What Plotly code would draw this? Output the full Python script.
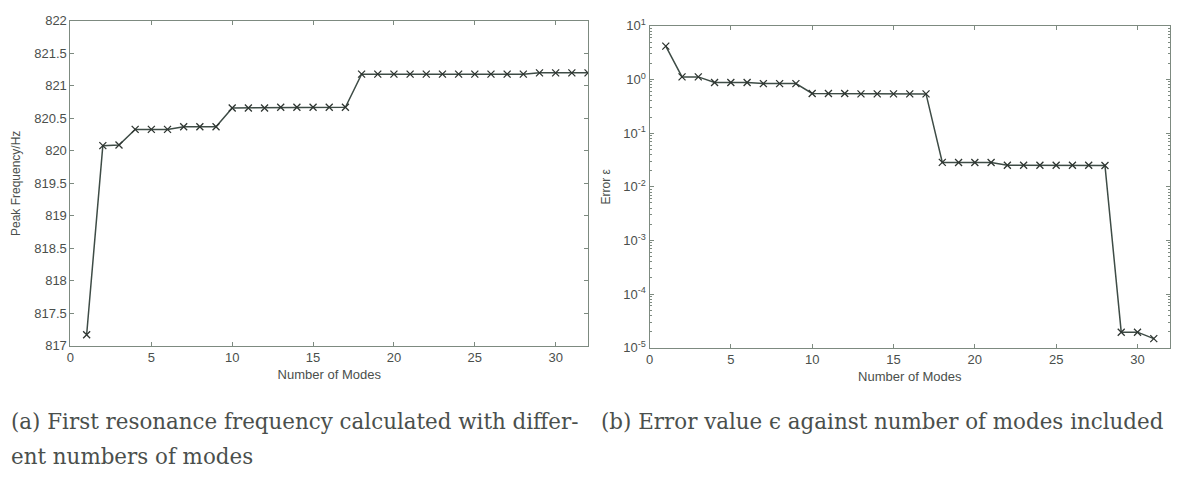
import plotly.graph_objects as go

# Number of modes included in the modal sum
modes_freq = list(range(1, 33))
# First resonance peak frequency (Hz) for each number of modes
peak_freq = [817.17, 820.08, 820.09, 820.33, 820.33, 820.33, 820.37, 820.37, 820.37,
             820.66, 820.66, 820.66, 820.67, 820.67, 820.67, 820.67, 820.67,
             821.18, 821.18, 821.18, 821.18, 821.18, 821.18, 821.18, 821.18, 821.18,
             821.18, 821.18, 821.20, 821.20, 821.20, 821.20]

modes_err = list(range(1, 32))
# Error value epsilon for each number of modes
error_eps = [4.2, 1.12, 1.12, 0.88, 0.88, 0.88, 0.84, 0.84, 0.84,
             0.55, 0.55, 0.55, 0.54, 0.54, 0.54, 0.54, 0.54,
             0.0285, 0.0283, 0.0283, 0.0283, 0.0252, 0.0252, 0.0252, 0.0252, 0.0252,
             0.0252, 0.0250, 1.95e-5, 1.95e-5, 1.48e-5]

freq_ticks = [817, 817.5, 818, 818.5, 819, 819.5, 820, 820.5, 821, 821.5, 822]
x_ticks = [0, 5, 10, 15, 20, 25, 30]
err_exponents = [1, 0, -1, -2, -3, -4, -5]

caption_a = ["(a) First resonance frequency calculated with differ-", "ent numbers of modes"]
caption_b = "(b) Error value \u03f5 against number of modes included"

W, H = 1180, 486
LINE = "#3e4c46"
MARK = "#2f3632"
FRAME = "#7d8a80"
TEXT = "#4a4f4c"
SANS = "Liberation Sans, Arial, sans-serif"
SERIF = "DejaVu Serif, serif"

fig = go.Figure()

fig.add_trace(go.Scatter(
    x=modes_freq, y=peak_freq, mode="lines+markers",
    line=dict(color=LINE, width=1.5),
    marker=dict(symbol="x-thin", size=7, line=dict(width=1.3, color=MARK)),
    xaxis="x", yaxis="y", showlegend=False))

fig.add_trace(go.Scatter(
    x=modes_err, y=error_eps, mode="lines+markers",
    line=dict(color=LINE, width=1.5),
    marker=dict(symbol="x-thin", size=7, line=dict(width=1.3, color=MARK)),
    xaxis="x2", yaxis="y2", showlegend=False))


def px_x(p):
    return p / W


def px_y(p):
    return 1 - p / H


axis_common = dict(
    showgrid=False, zeroline=False, showline=True, linecolor=FRAME, linewidth=1,
    mirror="ticks", ticks="inside", ticklen=4, tickcolor=FRAME,
    tickfont=dict(family=SANS, size=13, color=TEXT),
)

minor_vals = [m * 10.0 ** e for e in range(-5, 1) for m in range(2, 10)]

fig.update_layout(
    width=W, height=H,
    margin=dict(l=0, r=0, t=0, b=0),
    paper_bgcolor="white", plot_bgcolor="white",
    xaxis=dict(axis_common, domain=[px_x(66.7), px_x(586)], range=[0, 32],
               tickvals=x_ticks, anchor="y",
               title=dict(text="Number of Modes", standoff=5,
                          font=dict(family=SANS, size=13, color=TEXT))),
    yaxis=dict(axis_common, domain=[px_y(349), px_y(12.3)], range=[817, 822],
               tickvals=freq_ticks, anchor="x",
               title=dict(text="Peak Frequency/Hz", standoff=11,
                          font=dict(family=SANS, size=12, color=TEXT))),
    xaxis2=dict(axis_common, domain=[px_x(647.7), px_x(1170)], range=[0, 32],
                tickvals=x_ticks, anchor="y2",
                title=dict(text="Number of Modes", standoff=5,
                           font=dict(family=SANS, size=13, color=TEXT))),
    yaxis2=dict(axis_common, domain=[px_y(351), px_y(17.5)], type="log",
                range=[-5, 1], anchor="x2",
                tickvals=[10.0 ** e for e in err_exponents],
                ticktext=["10<sup>%d</sup>" % e for e in err_exponents],
                minor=dict(tickvals=minor_vals, ticks="inside", ticklen=2,
                           tickcolor=FRAME, showgrid=False),
                title=dict(text="Error \u03b5", standoff=10,
                           font=dict(family=SANS, size=12, color=TEXT))),
)

fig.add_annotation(x=px_x(5), y=px_y(427), xref="paper", yref="paper",
                   xanchor="left", yanchor="middle", showarrow=False,
                   text=caption_a[0], font=dict(family=SERIF, size=21.4, color=TEXT))
fig.add_annotation(x=px_x(5), y=px_y(464), xref="paper", yref="paper",
                   xanchor="left", yanchor="middle", showarrow=False,
                   text=caption_a[1], font=dict(family=SERIF, size=21.4, color=TEXT))
fig.add_annotation(x=px_x(597), y=px_y(427), xref="paper", yref="paper",
                   xanchor="left", yanchor="middle", showarrow=False,
                   text=caption_b, font=dict(family=SERIF, size=21.4, color=TEXT))

fig.write_html("out.html")
